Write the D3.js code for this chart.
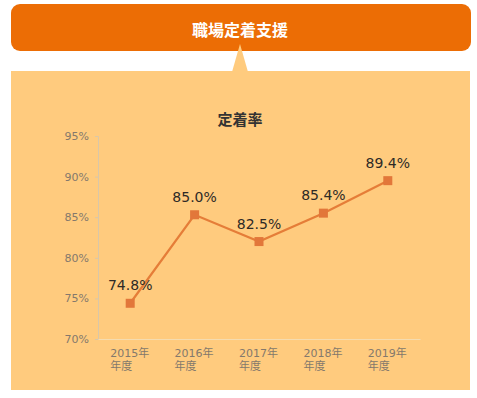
<!DOCTYPE html>
<html>
<head>
<meta charset="utf-8">
<script src="https://cdn.jsdelivr.net/npm/d3@7"></script>
<style>
  body { margin: 0; background: #fff; }
  text { font-family: "DejaVu Sans", "Noto Sans CJK JP", sans-serif; }
</style>
</head>
<body>
<svg id="chart" width="477" height="398"></svg>
<script>
// data
const years = ["2015年", "2016年", "2017年", "2018年", "2019年"];
const rate = [74.4, 85.3, 82.0, 85.5, 89.5];
const rateLabels = ["74.8%", "85.0%", "82.5%", "85.4%", "89.4%"];
const yTicks = [70, 75, 80, 85, 90, 95];

const svg = d3.select("#chart");
const margin = { left: 98, right: 57, top: 136, bottom: 59 };
const width = 477, height = 398;

// header box + pointer
svg.append("rect")
  .attr("x", 11).attr("y", 4)
  .attr("width", 460).attr("height", 47)
  .attr("rx", 9)
  .attr("fill", "#ec6d05");

svg.append("rect")
  .attr("x", 11).attr("y", 71)
  .attr("width", 459).attr("height", 319)
  .attr("fill", "#ffcb7e");

svg.append("path")
  .attr("d", "M240,44 L232,72 L248,72 Z")
  .attr("fill", "#ffcb7e");

svg.append("text")
  .attr("x", 240).attr("y", 29)
  .attr("text-anchor", "middle")
  .attr("dominant-baseline", "central")
  .attr("fill", "#fff")
  .style("font-family", "'Noto Sans CJK JP'")
  .style("font-size", "16px")
  .style("font-weight", "bold")
  .text("職場定着支援");

svg.append("text")
  .attr("x", 240).attr("y", 118)
  .attr("text-anchor", "middle")
  .attr("dominant-baseline", "central")
  .attr("fill", "#333")
  .style("font-family", "'Noto Sans CJK JP'")
  .style("font-size", "15px")
  .style("font-weight", "bold")
  .text("定着率");

// scales
const x = d3.scaleBand()
  .domain(years)
  .range([margin.left, width - margin.right]);

const y = d3.scaleLinear()
  .domain([70, 95])
  .range([height - margin.bottom, margin.top]);

// y axis
const yAxis = svg.append("g")
  .attr("transform", `translate(${margin.left},0)`)
  .call(d3.axisLeft(y).tickValues(yTicks).tickSize(3).tickPadding(6).tickFormat(d => d + "%"));
yAxis.select(".domain").attr("stroke", "#d9c7a8");
yAxis.selectAll(".tick line").attr("stroke", "#d9c7a8");
yAxis.selectAll(".tick text")
  .attr("fill", "#84796c")
  .style("font-size", "11px");

// x axis
const xAxis = svg.append("g")
  .attr("transform", `translate(0,${height - margin.bottom})`)
  .call(d3.axisBottom(x).tickSize(0).tickPadding(0));
xAxis.select(".domain").attr("stroke", "#f5dcb0");
xAxis.selectAll(".tick text").remove();
xAxis.selectAll(".tick").each(function (d) {
  const t = d3.select(this).append("text")
    .attr("x", -20)
    .attr("text-anchor", "start")
    .attr("fill", "#84796c")
    .style("font-size", "11px");
  t.append("tspan").attr("x", -20).attr("y", 18).text(d);
  t.append("tspan").attr("x", -20).attr("y", 31).text("年度");
});

// line
const pts = years.map((d, i) => ({ k: d, v: rate[i], lab: rateLabels[i] }));
const line = d3.line()
  .x(d => x(d.k) + x.bandwidth() / 2)
  .y(d => y(d.v));

svg.append("path")
  .datum(pts)
  .attr("d", line)
  .attr("fill", "none")
  .attr("stroke", "#e57d38")
  .attr("stroke-width", 2.2);

svg.selectAll(".mark")
  .data(pts)
  .join("rect")
  .attr("class", "mark")
  .attr("x", d => x(d.k) + x.bandwidth() / 2 - 4.5)
  .attr("y", d => y(d.v) - 4.5)
  .attr("width", 9)
  .attr("height", 9)
  .attr("fill", "#e2773a");

svg.selectAll(".lab")
  .data(pts)
  .join("text")
  .attr("class", "lab")
  .attr("x", d => x(d.k) + x.bandwidth() / 2)
  .attr("y", d => y(d.v) - 18)
  .attr("text-anchor", "middle")
  .attr("dominant-baseline", "central")
  .attr("fill", "#2e2a26")
  .style("font-size", "14px")
  .text(d => d.lab);
</script>
</body>
</html>
